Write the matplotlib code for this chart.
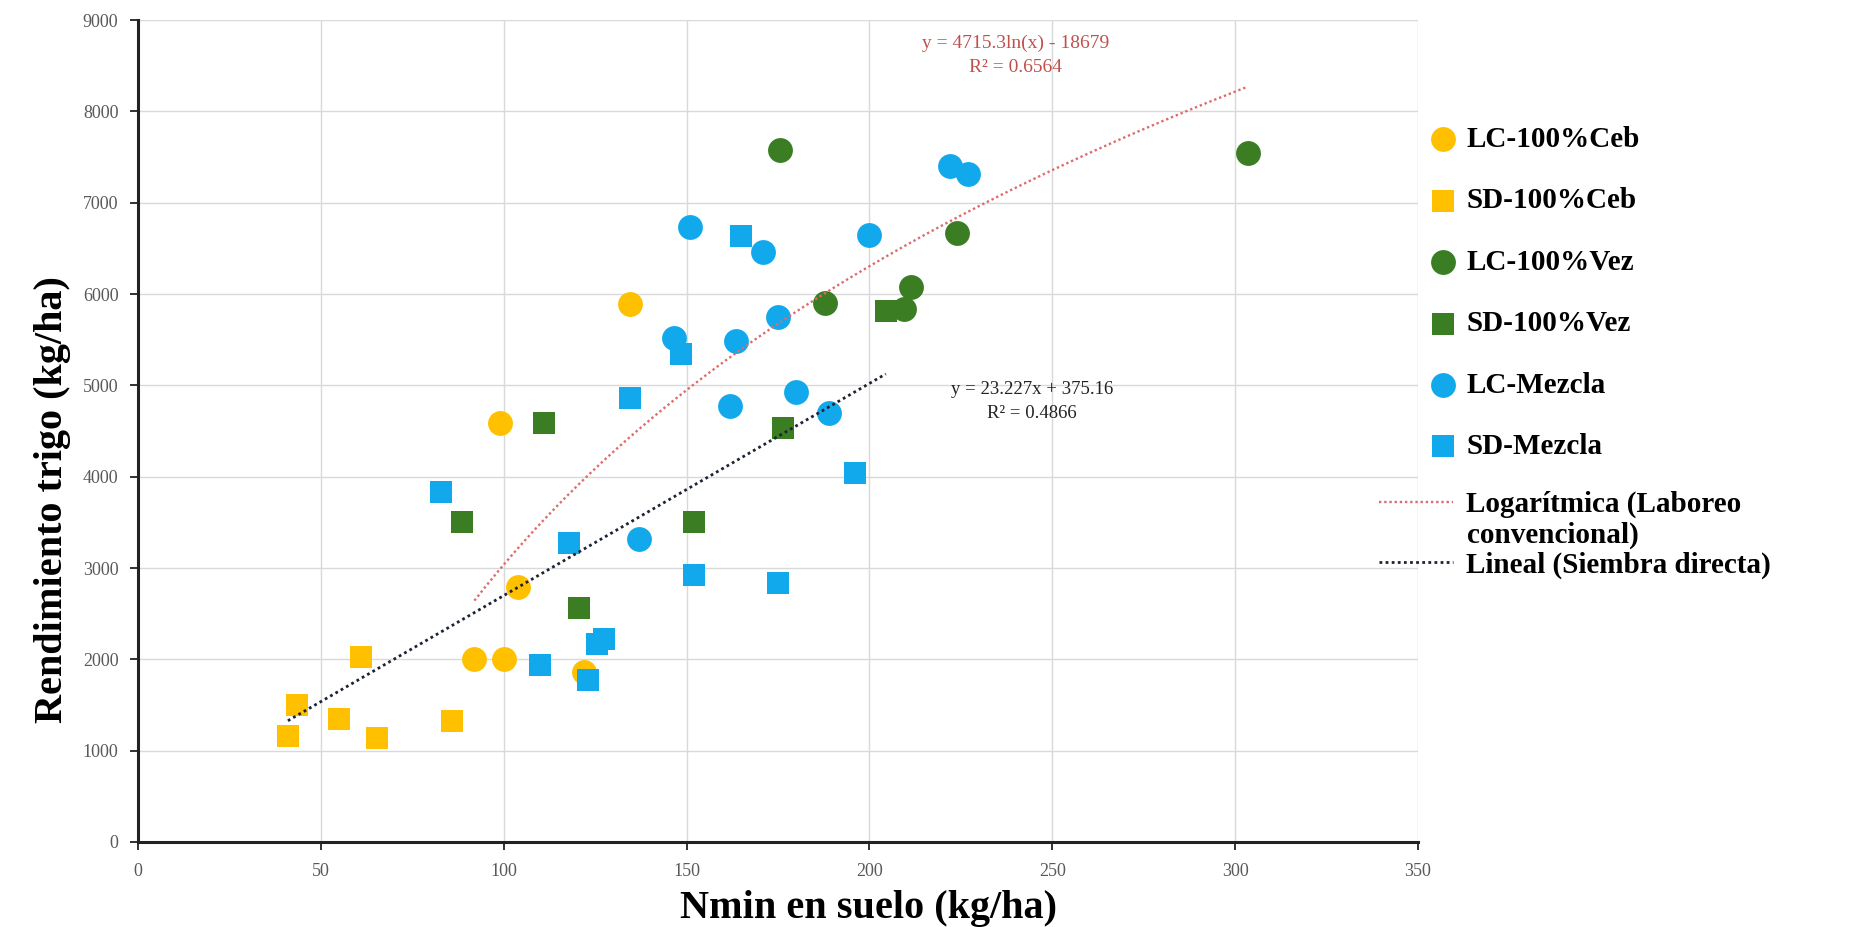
import numpy as np
import matplotlib.pyplot as plt
from matplotlib.lines import Line2D

# values
lc_ceb_x = [134.5, 99, 104, 92, 100, 122]
lc_ceb_y = [5890, 4590, 2790, 2000, 2000, 1860]
sd_ceb_x = [61, 43.5, 55, 41, 65.5, 86]
sd_ceb_y = [2030, 1500, 1350, 1160, 1140, 1330]
lc_vez_x = [175.5, 303.5, 224, 211.5, 188, 209.5]
lc_vez_y = [7580, 7540, 6670, 6075, 5900, 5840]
sd_vez_x = [111, 88.5, 152, 120.5, 176.5, 204.5]
sd_vez_y = [4590, 3500, 3500, 2560, 4535, 5810]
lc_mez_x = [151, 146.5, 171, 200, 222, 227, 175, 163.5, 162, 180, 189, 137]
lc_mez_y = [6730, 5520, 6455, 6650, 7400, 7310, 5750, 5490, 4770, 4930, 4700, 3320]
sd_mez_x = [83, 118, 152, 127.5, 125.5, 110, 123, 148.5, 134.5, 165, 196, 175]
sd_mez_y = [3830, 3270, 2920, 2220, 2170, 1940, 1775, 5340, 4860, 6640, 4040, 2840]

# trendline coefficients printed on the chart
log_a, log_b = 4715.3, -18679
lin_a, lin_b = 23.227, 375.16

yellow = "#FFC000"
green = "#3A7D22"
blue = "#12A9EC"

plt.rcParams["font.family"] = ["Liberation Serif", "DejaVu Serif"]

fig = plt.figure(figsize=(18.64, 9.27), dpi=100)
ax = fig.add_axes([0.0740, 0.0917, 0.6867, 0.8867])

s_sq = 260
s_ci = 320
h1 = ax.scatter(lc_ceb_x, lc_ceb_y, s=s_ci, marker="o", color=yellow, linewidths=0, zorder=3)
h2 = ax.scatter(sd_ceb_x, sd_ceb_y, s=s_sq, marker="s", color=yellow, linewidths=0, zorder=3)
h3 = ax.scatter(lc_vez_x, lc_vez_y, s=s_ci, marker="o", color=green, linewidths=0, zorder=3)
h4 = ax.scatter(sd_vez_x, sd_vez_y, s=s_sq, marker="s", color=green, linewidths=0, zorder=3)
h5 = ax.scatter(lc_mez_x, lc_mez_y, s=s_ci, marker="o", color=blue, linewidths=0, zorder=3)
h6 = ax.scatter(sd_mez_x, sd_mez_y, s=s_sq, marker="s", color=blue, linewidths=0, zorder=3)

# trendlines over the range of each tillage group
lc_x = lc_ceb_x + lc_vez_x + lc_mez_x
sd_x = sd_ceb_x + sd_vez_x + sd_mez_x
xl = np.linspace(min(lc_x), max(lc_x), 200)
xs = np.linspace(min(sd_x), max(sd_x), 200)
red_c = "#DE6B6B"
blk_c = "#1C2333"
ax.plot(xl, log_a * np.log(xl) + log_b, color=red_c, lw=1.7, ls=(0, (1, 1.2)), zorder=4)
ax.plot(xs, lin_a * xs + lin_b, color=blk_c, lw=2.0, ls=(0, (1, 1.2)), zorder=4)

ax.text(240, 8614, "y = 4715.3ln(x) - 18679\nR² = 0.6564", color="#C0504D",
        fontsize=14, ha="center", va="center", linespacing=1.55, zorder=5)
ax.text(244.5, 4825, "y = 23.227x + 375.16\nR² = 0.4866", color="#222222",
        fontsize=13.5, ha="center", va="center", linespacing=1.55, zorder=5)

ax.set_xlim(0, 350)
ax.set_ylim(0, 9000)
ax.set_xticks(range(0, 351, 50))
ax.set_yticks(range(0, 9001, 1000))
ax.grid(True, color="#D9D9D9", lw=1.0, zorder=0)
ax.set_axisbelow(True)
for side in ["top", "right"]:
    ax.spines[side].set_visible(False)
for side in ["left", "bottom"]:
    ax.spines[side].set_linewidth(2.2)
    ax.spines[side].set_color("#222222")
ax.tick_params(direction="out", length=6, width=1.3, color="#222222",
               labelsize=13, labelcolor="#595959")
ax.tick_params(axis="x", pad=9)
ax.tick_params(axis="y", pad=8)

ax.set_xlabel("Nmin en suelo (kg/ha)", fontsize=29, fontweight="bold")
ax.xaxis.set_label_coords(0.571, -0.058)
ax.set_ylabel("Rendimiento trigo (kg/ha)", fontsize=29, fontweight="bold")
ax.yaxis.set_label_coords(-0.052, 0.416)

fs = 21
leg_prop = {"size": fs, "weight": "bold"}
fig.legend([h1, h2, h3, h4, h5, h6],
           ["LC-100%Ceb", "SD-100%Ceb", "LC-100%Vez", "SD-100%Vez", "LC-Mezcla", "SD-Mezcla"],
           loc="upper left", bbox_to_anchor=(1428 / 1864, 1 - 126 / 927),
           frameon=False, borderpad=0, borderaxespad=0, scatterpoints=1,
           handlelength=1.0, handletextpad=0.33, labelspacing=1.18, prop=leg_prop)
blank = Line2D([], [], color="none")
fig.legend([Line2D([], [], color=red_c, lw=1.7, ls=(0, (1, 1.2))), blank,
            Line2D([], [], color=blk_c, lw=2.0, ls=(0, (1, 1.2)))],
           ["Logarítmica (Laboreo", "convencional)", "Lineal (Siembra directa)"],
           loc="upper left", bbox_to_anchor=(1379 / 1864, 1 - 491 / 927),
           frameon=False, borderpad=0, borderaxespad=0,
           handlelength=2.55, handletextpad=0.45, labelspacing=0.1, prop=leg_prop)

fig.savefig("out.png", dpi=100, facecolor="white")
